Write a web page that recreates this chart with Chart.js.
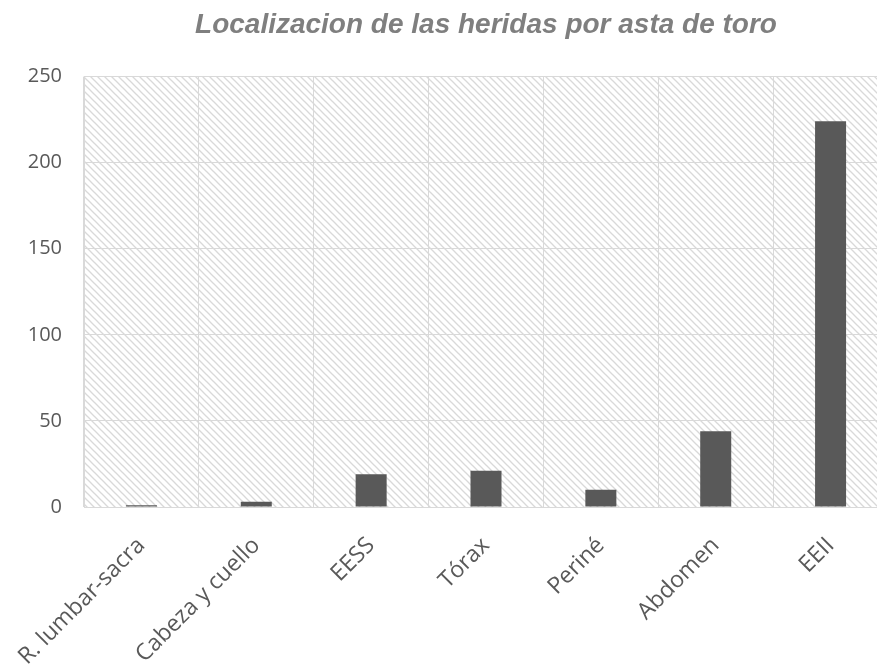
<!DOCTYPE html>
<html lang="es">
<head>
  <meta charset="utf-8">
  <title>Localizacion de las heridas por asta de toro</title>
  <style>
    html, body { margin: 0; padding: 0; background: #fff; overflow: hidden; }
  </style>
</head>
<body>
  <canvas id="chart" width="960" height="667"></canvas>

  <script src="https://cdn.jsdelivr.net/npm/chart.js@4/dist/chart.umd.min.js"></script>
  <script>
    // data
    var categories = ["R. lumbar-sacra", "Cabeza y cuello", "EESS", "Tórax", "Periné", "Abdomen", "EEII"];
    var heridas = [1, 3, 19, 21, 10, 44, 224];
    var yTicks = [0, 50, 100, 150, 200, 250];

    // diagonal hatch for the plot background
    function makeHatch() {
      var s = 7;
      var c = document.createElement('canvas');
      c.width = s; c.height = s;
      var g = c.getContext('2d');
      g.strokeStyle = '#d9d9d9';
      g.lineWidth = 1.3;
      for (var k = -1; k <= 1; k++) {
        g.beginPath();
        g.moveTo(k * s - 1, -1);
        g.lineTo(k * s + s + 1, s + 1);
        g.stroke();
      }
      return g.createPattern(c, 'repeat');
    }

    var hatchPlugin = {
      id: 'hatch',
      beforeDraw: function(chart) {
        var a = chart.chartArea;
        var ctx = chart.ctx;
        ctx.save();
        ctx.fillStyle = makeHatch();
        ctx.fillRect(a.left, a.top, a.right - a.left, a.bottom - a.top);
        ctx.restore();
      }
    };

    new Chart(document.getElementById('chart').getContext('2d'), {
      type: 'bar',
      data: {
        labels: categories,
        datasets: [{
          label: 'Heridas',
          data: heridas,
          backgroundColor: '#595959',
          barPercentage: 1,
          categoryPercentage: 0.27
        }]
      },
      options: {
        responsive: false,
        animation: false,
        layout: { padding: { left: 0, right: 72, top: 0, bottom: 0 } },
        plugins: {
          legend: { display: false },
          tooltip: { enabled: false },
          title: {
            display: true,
            fullSize: false, // centre over the plot, not the whole canvas
            text: 'Localizacion de las heridas por asta de toro',
            color: '#7f7f7f',
            font: { family: 'Liberation Sans', size: 28, weight: 'bold', style: 'italic', lineHeight: 1.2 },
            padding: { top: 8, bottom: 35 }
          }
        },
        scales: {
          x: {
            grid: { color: '#d9d9d9', lineWidth: 1, drawTicks: false, offset: true },
            border: { color: '#d9d9d9' },
            ticks: {
              color: '#595959',
              font: { family: 'Open Sans', size: 23 },
              minRotation: 45,
              maxRotation: 45,
              padding: 25
            },
            afterFit: function(scale) {
              scale.height = 160;
              scale.paddingLeft = 0;
              scale.paddingRight = 0;
            }
          },
          y: {
            min: 0,
            max: 250,
            grid: { color: '#d9d9d9', lineWidth: 1, drawTicks: false },
            border: { color: '#d9d9d9' },
            afterBuildTicks: function(scale) {
              scale.ticks = yTicks.map(function(v) { return { value: v }; });
            },
            ticks: {
              color: '#595959',
              font: { family: 'Open Sans', size: 20 },
              padding: 22
            },
            afterFit: function(scale) { scale.width = 84; }
          }
        }
      },
      plugins: [hatchPlugin]
    });
  </script>
</body>
</html>
